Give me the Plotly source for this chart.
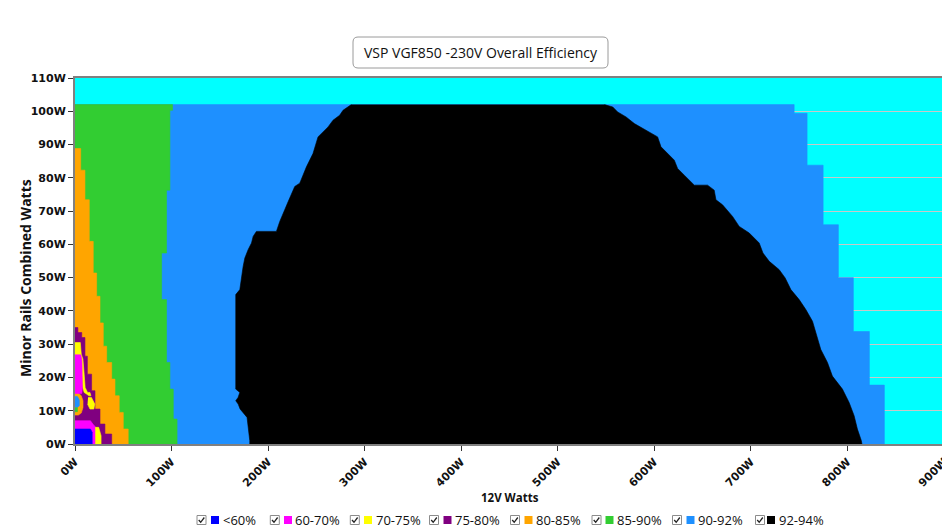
import plotly.graph_objects as go

# ---------------- data ----------------
BANDS = ["<60%", "60-70%", "70-75%", "75-80%", "80-85%", "85-90%", "90-92%", "92-94%"]
COLORS = ["#0000FF", "#FF00FF", "#FFFF00", "#800080", "#FFA500", "#32CD32", "#1E90FF", "#000000"]

X_TICKS = [0, 100, 200, 300, 400, 500, 600, 700, 800, 900]
X_LABELS = ["0W", "100W", "200W", "300W", "400W", "500W", "600W", "700W", "800W", "900W"]
Y_TICKS = [0, 10, 20, 30, 40, 50, 60, 70, 80, 90, 100, 110]
Y_LABELS = ["0W", "10W", "20W", "30W", "40W", "50W", "60W", "70W", "80W", "90W", "100W", "110W"]

# Step boundaries: minor-rail watts (Y, top->bottom) and the 12V watts where the band ends
BLUE_Y = [102, 99.4, 83.8, 65.9, 50, 33.8, 17.7, 0]          # 90-92% outer edge
BLUE_X = [744.8, 758.2, 774.8, 790.6, 806.1, 822.7, 838.2]

GREEN_Y = [102, 100.3, 76.3, 57.4, 43.4, 24.5, 16.5, 7.5, 0]   # 85-90% right edge
GREEN_X = [101, 98.3, 94.8, 89.7, 94.8, 98.3, 101.8, 105.7]

ORANGE_Y = [88.8, 82.3, 73.4, 60.9, 51.4, 44.4, 36.4, 29.4, 24.5, 19.5, 14.5, 9.5, 4.5, 0]
ORANGE_X = [5.9, 10.3, 14.8, 18.9, 22.4, 25.9, 29.3, 32.8, 38, 41.4, 45.8, 50, 55.1]

PURPLE_Y = [35, 33.5, 32, 26.4, 21, 16, 10.5, 6, 3, 0]
PURPLE_X = [3, 7, 10.3, 12.8, 17.2, 20.7, 25.9, 31, 38]

# 92-94% island: left and right edges
BLACK_LEFT_Y = [102, 100.3, 98.8, 97.3, 95.3, 93.8, 92.3, 87.3, 83.3, 78.4, 77.4, 72.8, 69.4, 66.9,
                63.9, 63.9, 62.4, 60.4, 58.4, 55.9, 53.3, 50.3, 46.4, 44.9, 16.5, 15.5, 14, 13, 12,
                10.5, 8, 1, 0]
BLACK_LEFT_X = [286.2, 277.6, 274.1, 267.2, 262.1, 256.9, 251.7, 246.5, 239.7, 232.8, 227.6, 220.7,
                215.5, 212.1, 208.6, 187.9, 184.5, 182.8, 179.3, 175.9, 174.1, 172.4, 170.7, 166.5,
                166.5, 170.7, 168.9, 166.5, 169, 171, 178.2, 181, 181]
BLACK_RIGHT_Y = [102, 101.3, 99.8, 98.3, 96.3, 94.3, 92.3, 89.3, 87.3, 85.3, 82.8, 80.8, 77.8, 77.8,
                 76.3, 73.4, 71.9, 68.4, 65.4, 63.4, 60.4, 57.4, 54.9, 52.4, 49.9, 46.4, 43.4, 40.4,
                 36.9, 33.4, 28.4, 24.5, 20.4, 16.5, 12.5, 8.5, 4.5, 1, 0]
BLACK_RIGHT_X = [548.3, 556.9, 562, 570.7, 579.3, 591.4, 603.4, 606.9, 613.8, 620.7, 624.1, 631,
                 641.4, 655.1, 662, 663.8, 670.6, 681, 687.9, 698.3, 708.6, 712.5, 719, 729.3, 735.5,
                 741.4, 750, 756.9, 763.8, 767.3, 772.4, 779.3, 784.4, 794.8, 801.7, 806.9, 810.3,
                 814.4, 815]

# small low-load islands (12V W, minor W)
YELLOW_A_X = [0, 5.5, 6.5, 8.2, 9.5, 10.5, 13, 15.5, 16.5, 14.5, 12, 9.5, 8, 7, 6, 0]
YELLOW_A_Y = [30.5, 30.5, 27, 25.5, 21, 17, 15.5, 15.5, 14.5, 14.5, 15, 15.5, 17, 21, 26.5, 26.5]
YELLOW_B_X = [13.5, 17, 20.5, 19.5, 15.5, 13]
YELLOW_B_Y = [14, 14, 12, 10.5, 10.5, 12]
YELLOW_C_X = [21, 24.5, 27, 27, 21]
YELLOW_C_Y = [5, 5, 2.5, 0, 0]
MAGENTA_A_X = [0, 6, 7.2, 7.6, 7.6, 7, 0]
MAGENTA_A_Y = [26.8, 26.8, 25, 21, 16.5, 15.2, 15.2]
MAGENTA_B_X = [0, 16, 18.5, 21.5, 23, 23, 0]
MAGENTA_B_Y = [7, 7, 6, 5, 3, 0, 0]
BLUE60_X = [0, 16, 17.8, 17.8, 0]
BLUE60_Y = [4.5, 4.5, 3.5, 0, 0]
ORANGE_BLOB_X = [0, 3.5, 6.5, 8.3, 8.3, 6.5, 3.5, 0]
ORANGE_BLOB_Y = [15.3, 15.3, 14.5, 13, 11, 9.3, 8.7, 8.7]
DBLUE_BLOB_X = [0, 2.5, 4.5, 4.5, 2.5, 0]
DBLUE_BLOB_Y = [14.3, 14.3, 13.2, 11.5, 11, 11]
GREEN_BLOB_X = [0, 2.5, 2.5, 0]
GREEN_BLOB_Y = [10.9, 10.9, 9.7, 9.7]

# legend layout (page-pixel positions along the bottom row)
LEG_CB_PX = [201.5, 274.8, 354.8, 434, 515, 596.5, 677, 760]
LEG_SQ_PX = [215, 288, 368, 447.5, 528.5, 609.5, 690.5, 771]
LEG_TX_PX = [220.5, 293, 373.5, 453, 534, 615, 696, 776.5]


def step_polygon(ys, xs):
    px, py = [0], [ys[0]]
    for i, x in enumerate(xs):
        px += [x, x]
        py += [ys[i], ys[i + 1]]
    px.append(0)
    py.append(ys[-1])
    return px, py


fig = go.Figure()


def add_poly(x, y, color):
    fig.add_trace(go.Scatter(x=x, y=y, fill="toself", fillcolor=color, mode="lines",
                             line=dict(width=0.6, color=color), hoverinfo="skip",
                             showlegend=False))


C = dict(zip(BANDS, COLORS))
add_poly(*step_polygon(BLUE_Y, BLUE_X), C["90-92%"])
add_poly(BLACK_LEFT_X + BLACK_RIGHT_X[::-1], BLACK_LEFT_Y + BLACK_RIGHT_Y[::-1], C["92-94%"])
add_poly(*step_polygon(GREEN_Y, GREEN_X), C["85-90%"])
add_poly(*step_polygon(ORANGE_Y, ORANGE_X), C["80-85%"])
add_poly(*step_polygon(PURPLE_Y, PURPLE_X), C["75-80%"])
add_poly(ORANGE_BLOB_X, ORANGE_BLOB_Y, C["80-85%"])
add_poly(DBLUE_BLOB_X, DBLUE_BLOB_Y, C["90-92%"])
add_poly(GREEN_BLOB_X, GREEN_BLOB_Y, C["85-90%"])
add_poly(YELLOW_A_X, YELLOW_A_Y, C["70-75%"])
add_poly(YELLOW_B_X, YELLOW_B_Y, C["70-75%"])
add_poly(MAGENTA_A_X, MAGENTA_A_Y, C["60-70%"])
add_poly(MAGENTA_B_X, MAGENTA_B_Y, C["60-70%"])
add_poly(YELLOW_C_X, YELLOW_C_Y, C["70-75%"])
add_poly(BLUE60_X, BLUE60_Y, C["<60%"])

# ---------------- layout ----------------
# The page body has an 8px margin, so the figure is sized 942x522 and offset accordingly.
OFF = 8
FIG_W, FIG_H = 950 - OFF, 530 - OFF
PL, PR, PT, PB = 75, 944, 78, 444   # plot area in page pixels


def fx(px):
    return (px - PL) / (PR - PL)


def fy(py):
    return (PB - py) / (PB - PT)


tick_font = dict(family="DejaVu Sans", size=11, color="#111", weight="bold")
axis_common = dict(showline=True, linecolor="#808080", linewidth=2, mirror=True,
                   zeroline=False, ticks="outside", ticklen=5, tickwidth=1, tickcolor="#333",
                   tickfont=tick_font, automargin=False, ticklabeloverflow="allow")

fig.update_layout(
    width=FIG_W, height=FIG_H,
    margin=dict(l=PL - OFF, r=950 - PR, t=PT - OFF, b=530 - PB, pad=0),
    plot_bgcolor="#00FFFF", paper_bgcolor="white",
    showlegend=False,
    xaxis=dict(range=[0, 900], tickvals=X_TICKS, ticktext=X_LABELS, tickangle=-45,
               showgrid=False, **axis_common),
    yaxis=dict(range=[0, 110], tickvals=Y_TICKS, ticktext=Y_LABELS, showgrid=True,
               gridcolor="#C8C8C8", gridwidth=1, **axis_common),
)

shapes = []
# rounded title box
x0, x1, y0, y1, r = 353, 608, 37, 68, 5
path = (f"M {fx(x0 + r)},{fy(y0)} L {fx(x1 - r)},{fy(y0)} Q {fx(x1)},{fy(y0)} {fx(x1)},{fy(y0 + r)} "
        f"L {fx(x1)},{fy(y1 - r)} Q {fx(x1)},{fy(y1)} {fx(x1 - r)},{fy(y1)} "
        f"L {fx(x0 + r)},{fy(y1)} Q {fx(x0)},{fy(y1)} {fx(x0)},{fy(y1 - r)} "
        f"L {fx(x0)},{fy(y0 + r)} Q {fx(x0)},{fy(y0)} {fx(x0 + r)},{fy(y0)} Z")
shapes.append(dict(type="path", xref="paper", yref="paper", path=path,
                   line=dict(color="#9a9a9a", width=1), fillcolor="white"))

annotations = [
    dict(text="VSP VGF850 -230V Overall Efficiency", x=fx(480.5), y=fy(52.5), xref="paper",
         yref="paper", showarrow=False, xanchor="center", yanchor="middle",
         font=dict(family="Open Sans", size=14, color="#111")),
    dict(text="12V Watts", x=fx(510), y=fy(497), xref="paper", yref="paper", showarrow=False,
         xanchor="center", yanchor="middle",
         font=dict(family="Open Sans", size=11.5, color="#111", weight="bold")),
    dict(text="Minor Rails Combined Watts", x=fx(25), y=fy(278), xref="paper", yref="paper",
         showarrow=False, textangle=-90, xanchor="center", yanchor="middle",
         font=dict(family="Open Sans", size=14, color="#111", weight="bold")),
]

LEG_Y = 520
for i, band in enumerate(BANDS):
    cx = LEG_CB_PX[i]
    shapes.append(dict(type="rect", xref="paper", yref="paper",
                       x0=fx(cx - 4.5), x1=fx(cx + 4.5), y0=fy(LEG_Y + 4.5), y1=fy(LEG_Y - 4.5),
                       line=dict(color="#8c8c8c", width=1), fillcolor="white"))
    shapes.append(dict(type="path", xref="paper", yref="paper",
                       path=f"M {fx(cx - 2.8)},{fy(LEG_Y)} L {fx(cx - 0.8)},{fy(LEG_Y + 2.3)} "
                            f"L {fx(cx + 2.8)},{fy(LEG_Y - 2.5)}",
                       line=dict(color="#222", width=1.3)))
    sx = LEG_SQ_PX[i]
    shapes.append(dict(type="rect", xref="paper", yref="paper",
                       x0=fx(sx - 4), x1=fx(sx + 4), y0=fy(LEG_Y + 4), y1=fy(LEG_Y - 4),
                       line=dict(width=0), fillcolor=COLORS[i]))
    annotations.append(dict(text=band.replace("<", "&lt;"), x=fx(LEG_TX_PX[i]), y=fy(LEG_Y),
                            xref="paper", yref="paper", showarrow=False, xanchor="left",
                            yanchor="middle",
                            font=dict(family="Open Sans", size=13, color="#111")))

fig.update_layout(shapes=shapes, annotations=annotations)
fig.write_html("out.html")
